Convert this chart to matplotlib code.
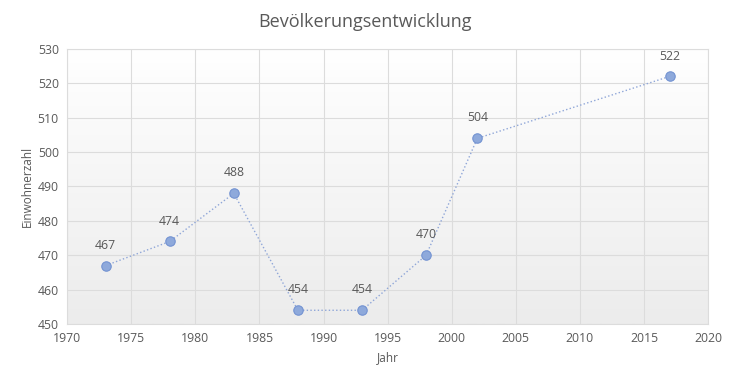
import numpy as np
import matplotlib
matplotlib.use('Agg')
import matplotlib.pyplot as plt
from matplotlib.colors import LinearSegmentedColormap

# Einwohnerzahl pro Jahr
years = [1973, 1978, 1983, 1988, 1993, 1998, 2002, 2017]
population = [467, 474, 488, 454, 454, 470, 504, 522]

plt.rcParams['font.family'] = ['Open Sans', 'DejaVu Sans']
text_color = '#595959'

fig = plt.figure(figsize=(7.30, 3.79), dpi=100)
ax = fig.add_axes([0.092, 0.145, 0.878, 0.726])

# gradient background, white at top to light gray at bottom
bg_cmap = LinearSegmentedColormap.from_list('bg', ['#ffffff', '#ececec'])
grad = np.linspace(0.0, 1.0, 256).reshape(-1, 1)
ax.imshow(grad, extent=[1970, 2020, 450, 530], aspect='auto', cmap=bg_cmap,
          origin='upper', zorder=0)

ax.plot(years, population, linestyle=':', linewidth=1.0, color='#8fa6d8', zorder=3)
ax.scatter(years, population, s=46, color='#8ea9db', edgecolors='#7393d2',
           linewidths=0.8, zorder=4)

for x, y in zip(years, population):
    ax.annotate(str(y), (x, y), xytext=(0, 10), textcoords='offset points',
                ha='center', va='bottom', fontsize=8.8, color=text_color)

ax.set_xlim(1970, 2020)
ax.set_ylim(450, 530)
ax.set_xticks(range(1970, 2021, 5))
ax.set_yticks(range(450, 531, 10))
ax.grid(True, color='#dcdcdc', linewidth=0.8, zorder=1)
ax.set_axisbelow(True)
for side in ['top', 'right', 'left', 'bottom']:
    ax.spines[side].set_color('#dcdcdc')
ax.tick_params(length=0, labelsize=8.8, colors=text_color, pad=6)

ax.set_xlabel('Jahr', fontsize=8.5, color=text_color, labelpad=4)
ax.set_ylabel('Einwohnerzahl', fontsize=8.5, color=text_color, labelpad=3)
fig.suptitle('Bevölkerungsentwicklung', fontsize=13, color=text_color, y=0.965)

fig.savefig('out.png', dpi=100)
